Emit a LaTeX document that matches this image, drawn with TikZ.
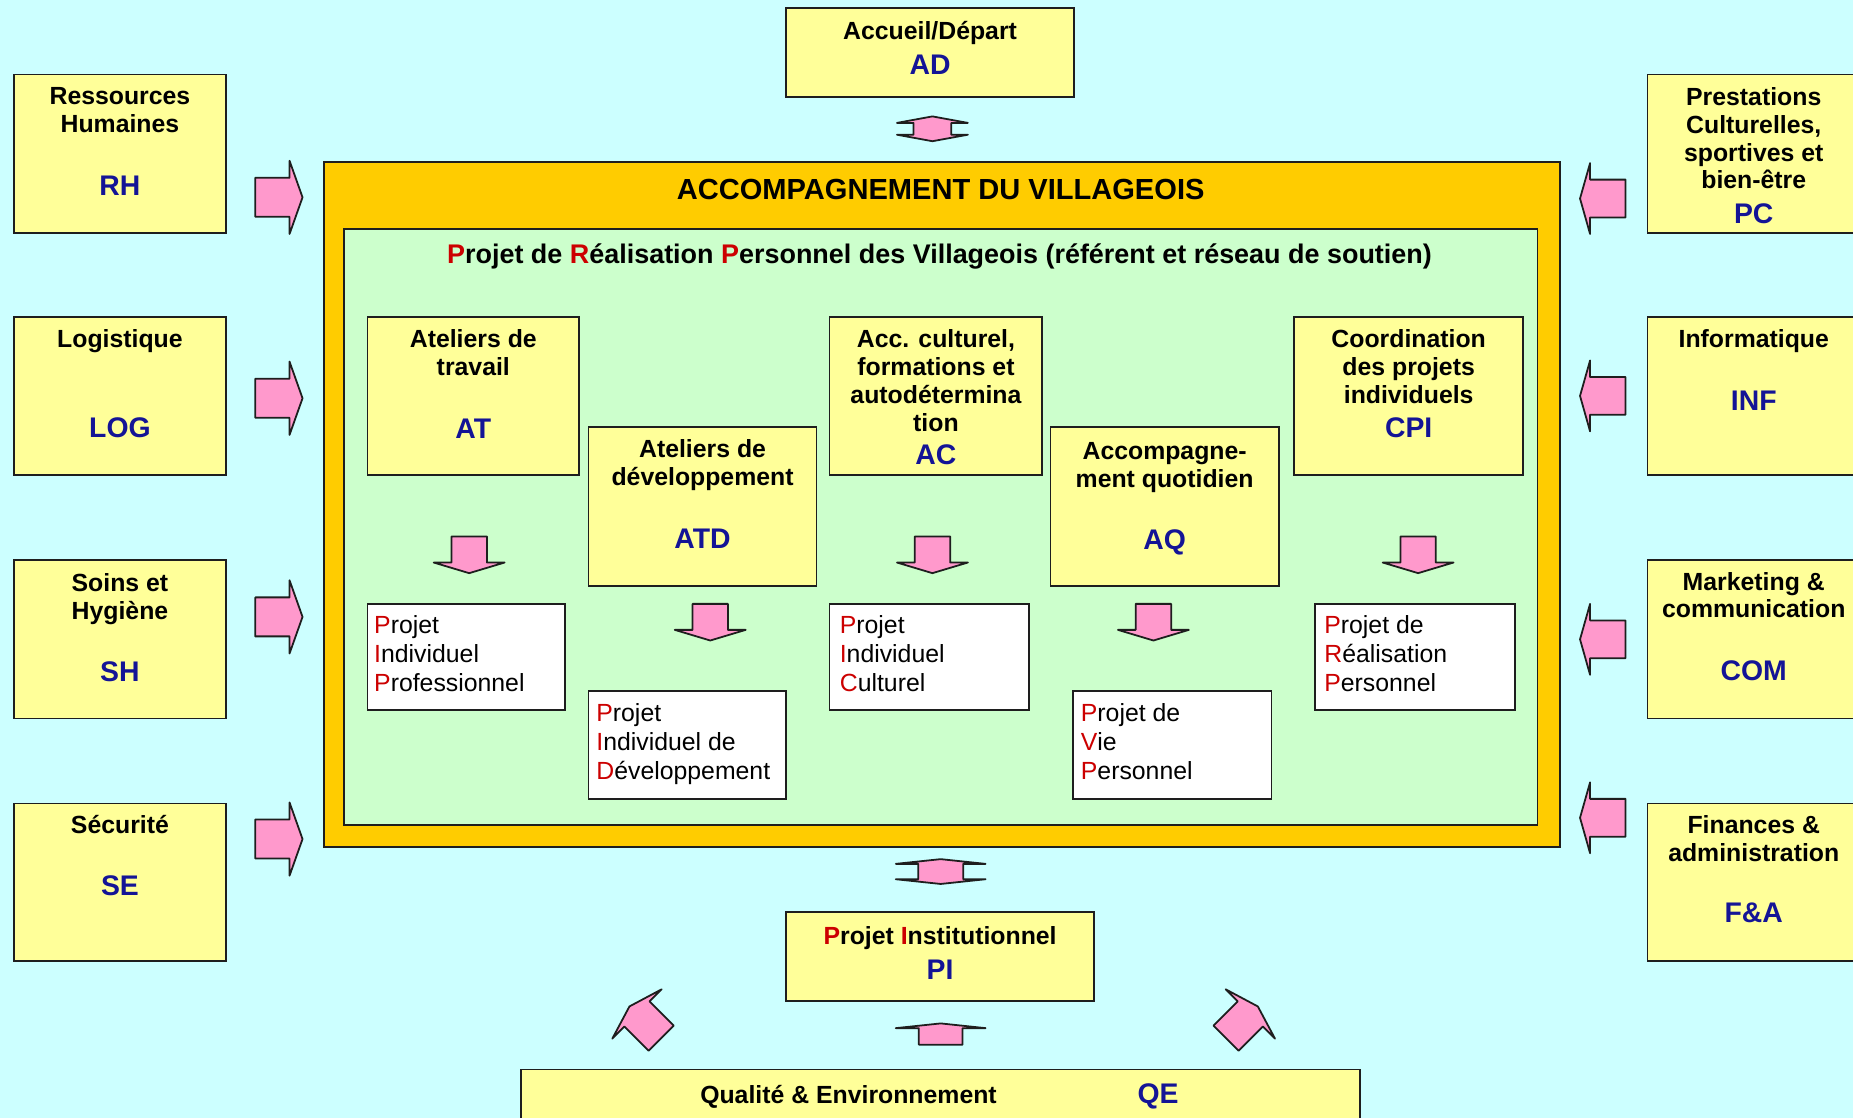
\documentclass[tikz,border=0pt]{standalone}
\usepackage{fontspec}
\setmainfont{Liberation Sans}
\usetikzlibrary{positioning}

\definecolor{bgcyan}{RGB}{204,255,255}
\definecolor{boxyellow}{RGB}{255,255,153}
\definecolor{accorange}{RGB}{255,204,0}
\definecolor{prvgreen}{RGB}{204,255,204}
\definecolor{arrowpink}{RGB}{255,153,204}
\definecolor{boxline}{RGB}{30,30,30}
\definecolor{initred}{RGB}{204,0,0}
\definecolor{sigleblue}{RGB}{20,20,150}

\newcommand{\rouge}[1]{{\color{initred}#1}}
\newcommand{\sigle}[1]{{\color{sigleblue}\fontsize{12}{14}\selectfont #1}}

\tikzset{
  boxsize/.style 2 args={minimum width=#1*0.5pt, minimum height=#2*0.5pt},
  ybox/.style={draw=boxline, line width=0.75pt, fill=boxyellow, inner sep=0pt},
  wbox/.style={draw=boxline, line width=0.75pt, fill=white, inner sep=0pt},
  btxt/.style={inner sep=0pt, align=center, font=\bfseries\fontsize{10.5}{11.75}\selectfont},
  wtxt/.style={inner sep=0pt, align=left, font=\fontsize{10.5}{12.25}\selectfont},
  arrowfill/.style={draw=boxline, line width=0.75pt, fill=arrowpink, line join=round},
  pics/barrow/.style n args={4}{code={
    \path[arrowfill] (-#1,-#2) -- (0,-#2) -- (0,-#3) -- (#4,0) -- (0,#3) -- (0,#2) -- (-#1,#2) -- cycle;}},
  pics/darrow/.style n args={4}{code={
    \path[arrowfill] (-#1,-#2) -- (#1,-#2) -- (#1,-#3) -- ({#1+#4},0) -- (#1,#3) -- (#1,#2)
      -- (-#1,#2) -- (-#1,#3) -- ({-#1-#4},0) -- (-#1,-#3) -- cycle;}},
}

\begin{document}
\begin{tikzpicture}[x=0.5pt,y=-0.5pt]
  \useasboundingbox (0,0) rectangle (1568,946);
  \clip (0,0) rectangle (1568,946);
  \fill[bgcyan] (0,0) rectangle (1568,946);

  % central frames
  \node[draw=boxline, line width=0.75pt, fill=accorange, boxsize={1046}{580}] (accomp) at (797,427) {};
  \node[draw=boxline, line width=0.75pt, fill=prvgreen, boxsize={1010}{504}] (prv) at (796,446) {};
  \node[inner sep=0pt, font=\bfseries\fontsize{12.3}{14}\selectfont] (accomp-t) at (796,160) {ACCOMPAGNEMENT DU VILLAGEOIS};
  \node[inner sep=0pt, font=\bfseries\fontsize{11.4}{13}\selectfont] (prv-t) at (795,217)
    {\rouge{P}rojet de \rouge{R}éalisation \rouge{P}ersonnel des Villageois (référent et réseau de soutien)};

  % left column
  \node[ybox, boxsize={179}{134}] (rh) at (101.5,130) {};
  \node[btxt, below=5.75pt of rh.north] (rh-t) {Ressources\\Humaines\\[14.8pt]\sigle{RH}};
  \node[ybox, boxsize={179}{134}] (log) at (101.5,335) {};
  \node[btxt, below=5.75pt of log.north] (log-t) {Logistique\\[26.3pt]\sigle{LOG}};
  \node[ybox, boxsize={179}{134}] (sh) at (101.5,541) {};
  \node[btxt, below=5.75pt of sh.north] (sh-t) {Soins et\\Hygiène\\[14.8pt]\sigle{SH}};
  \node[ybox, boxsize={179}{133}] (se) at (101.5,746.5) {};
  \node[btxt, below=5pt of se.north] (se-t) {Sécurité\\[14.8pt]\sigle{SE}};

  % right column
  \node[ybox, boxsize={180}{134}] (pc) at (1484,130) {};
  \node[btxt, below=5.75pt of pc.north] (pc-t) {Prestations\\Culturelles,\\sportives et\\bien-être\\[2.8pt]\sigle{PC}};
  \node[ybox, boxsize={180}{134}] (inf) at (1484,335) {};
  \node[btxt, below=5.75pt of inf.north] (inf-t) {Informatique\\[14.8pt]\sigle{INF}};
  \node[ybox, boxsize={180}{134}] (com) at (1484,541) {};
  \node[btxt, below=5.25pt of com.north] (com-t) {Marketing \&\\communication\\[14.8pt]\sigle{COM}};
  \node[ybox, boxsize={180}{133}] (fa) at (1484,746.5) {};
  \node[btxt, below=5.25pt of fa.north] (fa-t) {Finances \&\\administration\\[14.3pt]\sigle{F\&A}};

  % top and bottom
  \node[ybox, boxsize={244}{75}] (ad) at (787,44.5) {};
  \node[btxt, below=5.75pt of ad.north] (ad-t) {Accueil/Départ\\[2.8pt]\sigle{AD}};
  \node[ybox, boxsize={261}{75}] (pi) at (795.5,809.5) {};
  \node[btxt, below=6.25pt of pi.north] (pi-t) {\rouge{P}rojet \rouge{I}nstitutionnel\\[2.8pt]\sigle{PI}};
  \node[ybox, boxsize={710}{60}] (qe) at (796,935) {};
  \node[btxt] (qe-t) at (718,928) {Qualité \& Environnement};
  \node[btxt] (qe-s) at (980,928) {\sigle{QE}};

  % services
  \node[ybox, boxsize={179}{134}] (at) at (400.5,335) {};
  \node[btxt, below=5.75pt of at.north] (at-t) {Ateliers de\\travail\\[14.8pt]\sigle{AT}};
  \node[ybox, boxsize={193}{135}] (atd) at (594.5,428.5) {};
  \node[btxt, below=5.75pt of atd.north] (atd-t) {Ateliers de\\développement\\[14.8pt]\sigle{ATD}};
  \node[ybox, boxsize={180}{134}] (ac) at (792,335) {};
  \node[btxt, below=5.75pt of ac.north] (ac-t) {Acc. culturel,\\formations et\\autodétermina\\tion\\[2.3pt]\sigle{AC}};
  \node[ybox, boxsize={193}{135}] (aq) at (985.5,428.5) {};
  \node[btxt, below=6.75pt of aq.north] (aq-t) {Accompagne-\\ment quotidien\\[14.8pt]\sigle{AQ}};
  \node[ybox, boxsize={194}{134}] (cpi) at (1192,335) {};
  \node[btxt, below=5.75pt of cpi.north] (cpi-t) {Coordination\\des projets\\individuels\\[2.8pt]\sigle{CPI}};

  % individual projects
  \node[wbox, boxsize={167}{90}] (pip) at (394.5,556) {};
  \node[wtxt, below right=5.25pt and 3pt of pip.north west] (pip-t) {\rouge{P}rojet\\\rouge{I}ndividuel\\\rouge{P}rofessionnel};
  \node[wbox, boxsize={167}{91}] (pid) at (581.5,630.5) {};
  \node[wtxt, below right=5.25pt and 3.5pt of pid.north west] (pid-t) {\rouge{P}rojet\\\rouge{I}ndividuel de\\\rouge{D}éveloppement};
  \node[wbox, boxsize={169}{90}] (pic) at (786.5,556) {};
  \node[wtxt, below right=5.25pt and 4.5pt of pic.north west] (pic-t) {\rouge{P}rojet\\\rouge{I}ndividuel\\\rouge{C}ulturel};
  \node[wbox, boxsize={168}{91}] (pvp) at (992,630.5) {};
  \node[wtxt, below right=5.25pt and 3.5pt of pvp.north west] (pvp-t) {\rouge{P}rojet de\\\rouge{V}ie\\\rouge{P}ersonnel};
  \node[wbox, boxsize={169}{90}] (prp) at (1197.5,556) {};
  \node[wtxt, below right=5.25pt and 4pt of prp.north west] (prp-t) {\rouge{P}rojet de\\\rouge{R}éalisation\\\rouge{P}ersonnel};

  % block arrows
  \foreach \y in {167,337,522,710}
    \pic at (245,\y) {barrow={29}{16.5}{31}{11}};
  \foreach \y in {168,335,541,692}
    \pic[rotate=180] at (1345.5,\y) {barrow={30}{16}{30}{8.5}};
  \foreach \x/\y in {397/476,601/533,789/476,976/533,1200/476}
    \pic[rotate=-90] at (\x,\y) {barrow={22}{15}{30}{9}};
  \pic[rotate=135] at (539,858) {barrow={29}{15}{29.5}{9}};
  \pic[rotate=45] at (1058,858) {barrow={29}{15}{29.5}{9}};
  \pic[rotate=90] at (796,870) {barrow={14}{18.5}{38}{4}};
  \pic[rotate=90] at (789,109) {darrow={5}{16}{30}{5.5}};
  \pic[rotate=90] at (796,737.5) {darrow={6.5}{19}{38}{4}};
\end{tikzpicture}
\end{document}
